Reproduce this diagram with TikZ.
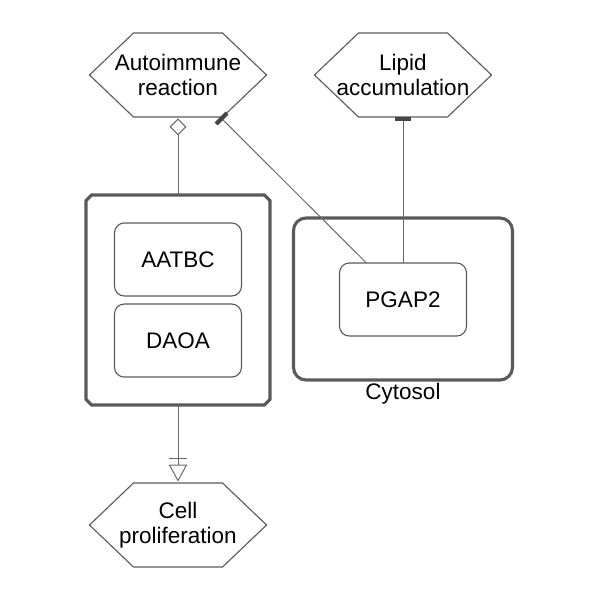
\documentclass[tikz,border=0pt]{standalone}
\usepackage{fontspec}
\setmainfont{Liberation Sans}
\usetikzlibrary{arrows.meta,positioning,shapes.misc}
\definecolor{edgegray}{HTML}{6A6A6A}
\definecolor{boxgray}{HTML}{5A5A5A}
\definecolor{bargray}{HTML}{454545}
% hexagon outline round a plain node
\newcommand{\hexround}[1]{%
  \draw[draw=boxgray,line width=0.8pt] (#1.west) -- ([xshift=1.1cm]#1.north west)
    -- ([xshift=-1.1cm]#1.north east) -- (#1.east)
    -- ([xshift=-1.1cm]#1.south east) -- ([xshift=1.1cm]#1.south west) -- cycle;}

\begin{document}
\begin{tikzpicture}[x=0.025cm,y=-0.025cm,
  every node/.style={font=\fontsize{16}{17.5}\selectfont, align=center,
    inner sep=2pt, outer sep=0pt},
  macro/.style={draw=boxgray, line width=0.8pt, rounded corners=7pt,
    minimum width=3.175cm, minimum height=1.825cm},
  hexnode/.style={minimum width=4.425cm, minimum height=2.1cm},
  cplxbox/.style={draw=boxgray, line width=2.2pt, chamfered rectangle,
    chamfered rectangle xsep=0.22cm, minimum width=4.6cm, minimum height=5.25cm},
  compart/.style={draw=boxgray, line width=2.2pt, rounded corners=9pt,
    minimum width=5.475cm, minimum height=4.05cm},
  link/.style={draw=edgegray, line width=0.7pt},
  inhib/.style={link, -{Bar[width=11pt,line width=3pt,color=bargray]}},
  modul/.style={link, shorten >=1pt, -{Diamond[fill=white,length=12pt,width=12pt]}},
  necstim/.style={link, shorten >=1pt,
    -{Bar[width=13pt,sep=4pt]Triangle[fill=white,length=12pt,width=13pt]}}]
\useasboundingbox (0,0) rectangle (600,600);

\node[hexnode] (auto)  at (178,75)  {Autoimmune\\reaction};
\node[hexnode] (lipid) at (403,75)  {Lipid\\accumulation};
\node[hexnode] (cell)  at (178,525) {Cell\\proliferation};
\hexround{auto}
\hexround{lipid}
\hexround{cell}

\node[cplxbox] (cplx) at (178,300) {};
\node[macro] (aatbc) at (178,259.5) {AATBC};
\node[macro,below=5.7pt of aatbc] (daoa) {DAOA};

\node[compart] (cyto) at (403,299) {};
\node[below=0pt of cyto] (cytolbl) {Cytosol};
\node[macro] (pgap) at (403,299.5) {PGAP2};

\draw[modul] (cplx) -- (auto);
\draw[necstim] (cplx) -- (cell);
\draw[inhib] (pgap) -- (auto);
\draw[inhib] (pgap) -- (lipid);
\end{tikzpicture}
\end{document}
